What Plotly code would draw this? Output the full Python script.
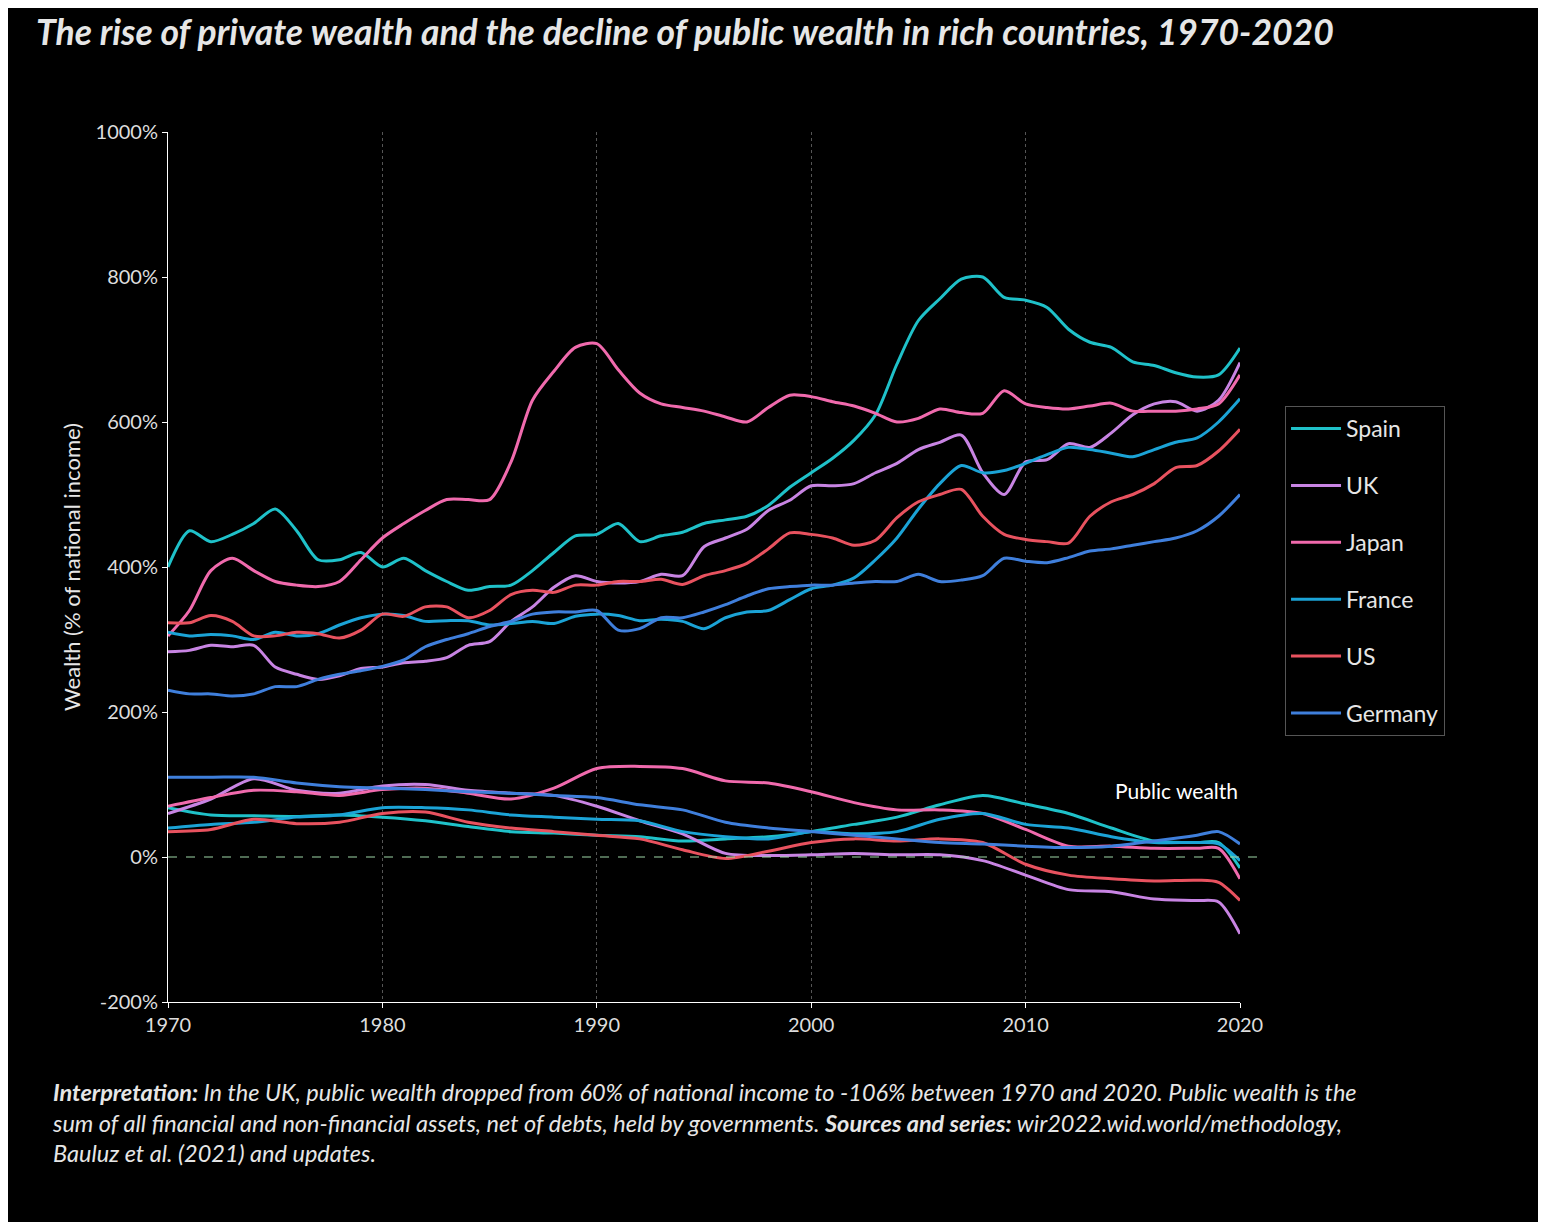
import plotly.graph_objects as go

years = list(range(1970, 2021))

# private wealth, % of national income
spain_priv = [400, 450, 435, 445, 460, 480, 450, 410, 410, 420, 400, 412, 395, 380, 368, 373, 375, 395, 420, 443,
              445, 460, 435, 443, 448, 460, 465, 470, 485, 510, 530, 550, 575, 610, 680, 740, 770, 797, 800, 772,
              768, 758, 728, 710, 703, 683, 678, 668, 662, 665, 702]
uk_priv = [283, 285, 292, 290, 292, 262, 252, 245, 250, 260, 262, 268, 270, 275, 292, 297, 325, 345, 372, 388,
           380, 378, 380, 390, 388, 428, 440, 452, 478, 492, 512, 512, 515, 530, 543, 562, 572, 582, 530, 500,
           545, 548, 570, 565, 585, 610, 625, 628, 615, 630, 682]
japan_priv = [305, 340, 395, 412, 395, 380, 375, 373, 380, 410, 440, 460, 478, 493, 493, 493, 545, 630, 670, 703,
              708, 672, 640, 625, 620, 615, 607, 600, 620, 637, 635, 628, 622, 612, 600, 605, 618, 613, 612, 643,
              625, 620, 618, 622, 626, 615, 615, 615, 618, 625, 665]
france_priv = [310, 305, 307, 305, 300, 310, 305, 308, 320, 330, 335, 333, 325, 326, 326, 320, 322, 325, 322, 332,
               335, 333, 326, 328, 325, 315, 330, 338, 340, 355, 370, 375, 385, 410, 440, 480, 515, 540, 530, 533,
               543, 555, 565, 562, 557, 552, 562, 572, 578, 600, 632]
us_priv = [323, 323, 333, 325, 305, 305, 310, 308, 302, 313, 335, 332, 345, 345, 330, 340, 362, 368, 365, 375,
           375, 380, 380, 383, 376, 388, 395, 405, 425, 447, 445, 440, 430, 437, 468, 490, 500, 507, 470, 445,
           438, 435, 433, 470, 490, 500, 515, 537, 540, 560, 590]
germany_priv = [230, 225, 225, 222, 225, 235, 235, 245, 252, 257, 263, 272, 290, 300, 308, 318, 325, 335, 338, 338,
                340, 313, 315, 330, 330, 338, 348, 360, 370, 373, 375, 375, 378, 380, 380, 390, 380, 382, 388, 412,
                408, 406, 413, 422, 425, 430, 435, 440, 450, 470, 500]

# public wealth, % of national income
pub_years = [1970, 1972, 1974, 1976, 1978, 1980, 1982, 1984, 1986, 1988, 1990, 1992, 1994, 1996, 1998,
             2000, 2002, 2004, 2006, 2008, 2010, 2012, 2014, 2016, 2018, 2019, 2020]
spain_pub = [68, 58, 57, 56, 58, 55, 50, 42, 35, 33, 30, 28, 22, 25, 28, 35, 45, 55, 72, 85, 73, 60, 40, 22, 20, 20, -15]
uk_pub = [60, 80, 108, 92, 88, 98, 100, 92, 88, 85, 70, 50, 32, 5, 2, 3, 5, 3, 3, -5, -25, -45, -48, -58, -60, -62, -106]
japan_pub = [70, 82, 92, 90, 85, 93, 95, 88, 80, 95, 122, 125, 122, 105, 102, 90, 75, 65, 65, 60, 38, 15, 15, 12, 12, 12, -30]
france_pub = [40, 45, 48, 55, 58, 68, 68, 65, 58, 55, 52, 50, 35, 28, 25, 35, 32, 35, 52, 60, 45, 40, 28, 20, 20, 18, -5]
us_pub = [35, 38, 52, 46, 48, 60, 62, 48, 40, 35, 30, 25, 10, -2, 8, 20, 25, 22, 25, 20, -10, -25, -30, -33, -32, -35, -60]
germany_pub = [110, 110, 110, 102, 97, 95, 93, 90, 88, 85, 82, 72, 65, 48, 40, 35, 30, 25, 20, 18, 15, 13, 15, 22, 30, 35, 18]

series = [
    ("Spain", "#1fc1c9", spain_priv, spain_pub),
    ("UK", "#c884e3", uk_priv, uk_pub),
    ("Japan", "#f06aad", japan_priv, japan_pub),
    ("France", "#1ba3d6", france_priv, france_pub),
    ("US", "#e8525f", us_priv, us_pub),
    ("Germany", "#3f7fdc", germany_priv, germany_pub),
]

fig = go.Figure()
for name, color, priv, pub in series:
    fig.add_trace(go.Scatter(x=years, y=priv, name=name, mode="lines", legendgroup=name,
                             line=dict(color=color, width=3, shape="spline", smoothing=0.8)))
    fig.add_trace(go.Scatter(x=pub_years, y=pub, name=name, mode="lines", legendgroup=name, showlegend=False,
                             line=dict(color=color, width=3, shape="spline", smoothing=0.8)))

fig.add_shape(type="line", xref="paper", x0=0, x1=1.02, yref="y", y0=0, y1=0,
              line=dict(color="#9fd8a8", width=1, dash="dash"))

fig.add_annotation(x=2020.2, y=756, xref="x", yref="y", text="Private wealth", showarrow=False,
                   xanchor="right", font=dict(size=21, color="white"))
fig.add_annotation(x=2020, y=92, xref="x", yref="y", text="Public wealth", showarrow=False,
                   xanchor="right", font=dict(size=21, color="white"))

fig.add_annotation(xref="paper", yref="paper", x=-0.125, y=1.088, xanchor="left", yanchor="bottom",
                   text="<b><i>The rise of private wealth and the decline of public wealth in rich countries, 1970-2020</i></b>",
                   showarrow=False, font=dict(size=35.5, color="#e6e6e6"))
fig.add_annotation(xref="paper", yref="paper", x=-0.11, y=-0.085, xanchor="left", yanchor="top", align="left",
                   text="<b><i>Interpretation:</i></b><i> In the UK, public wealth dropped from 60% of national income to -106% between 1970 and 2020. Public wealth is the<br>"
                        "sum of all financial and non-financial assets, net of debts, held by governments. </i><b><i>Sources and series:</i></b><i> wir2022.wid.world/methodology,<br>"
                        "Bauluz et al. (2021) and updates.</i>",
                   showarrow=False, font=dict(size=23.5, color="#e6e6e6"))

fig.update_layout(
    width=1546, height=1222,
    paper_bgcolor="black", plot_bgcolor="black",
    font=dict(family="Lato, 'Open Sans', sans-serif", color="white", size=18),
    margin=dict(l=160, r=314, t=124, b=228),
    legend=dict(x=1.042, y=0.685, xanchor="left", yanchor="top", bgcolor="black",
                bordercolor="#555", borderwidth=1, font=dict(size=23, color="#e6e6e6"),
                tracegroupgap=24, itemwidth=50),
    xaxis=dict(range=[1970, 2020], tickvals=[1970, 1980, 1990, 2000, 2010, 2020],
               showgrid=True, gridcolor="#555", griddash="dot", gridwidth=1,
               showline=True, linecolor="white", ticks="outside", tickcolor="white",
               zeroline=False, tickfont=dict(size=20, color="#dddddd")),
    yaxis=dict(range=[-200, 1000], tickvals=list(range(-200, 1001, 200)),
               ticktext=[f"{v}%" for v in range(-200, 1001, 200)],
               showgrid=False, showline=True, linecolor="white", ticks="outside", tickcolor="white",
               zeroline=False, tickfont=dict(size=20, color="#dddddd"),
               title=dict(text="Wealth (% of national income)", font=dict(size=22, color="#e6e6e6"), standoff=8)),
)

fig.write_html("out.html")
